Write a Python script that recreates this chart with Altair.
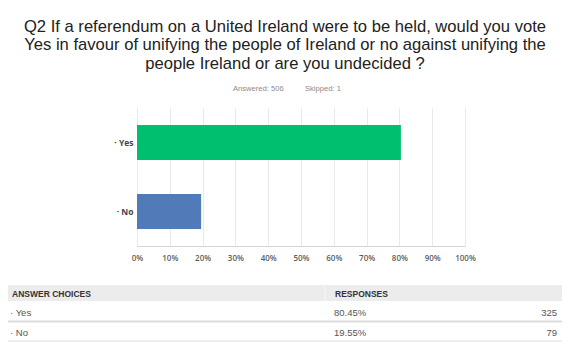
import altair as alt
import pandas as pd

# ---- data ----
title_lines = [
    "Q2 If a referendum on a United Ireland were to be held, would you vote",
    "Yes in favour of unifying the people of Ireland or no against unifying the",
    "people Ireland or are you undecided ?",
]
answered = 506
skipped = 1
choices = ["Yes", "No"]
percents = [80.45, 19.55]
counts = [325, 79]
bar_colors = ["#00bf6f", "#507bb8"]
tick_values = [0, 0.1, 0.2, 0.3, 0.4, 0.5, 0.6, 0.7, 0.8, 0.9, 1.0]
table_headers = ["ANSWER CHOICES", "RESPONSES"]

W, H = 328, 138

bars_df = pd.DataFrame({"choice": choices, "share": [p / 100 for p in percents]})

bars = alt.Chart(bars_df).mark_bar().encode(
    x=alt.X(
        "share:Q",
        scale=alt.Scale(domain=[0, 1]),
        axis=alt.Axis(
            values=tick_values, format=".0%", title=None, grid=True,
            gridColor="#e9e9e9", domainColor="#d6d6d6", ticks=False,
            labelPadding=8, labelFont="Open Sans", labelFontSize=8,
            labelFontWeight=600, labelColor="#5e5e5e", labelFlush=False,
        ),
    ),
    y=alt.Y(
        "choice:N", sort=choices,
        scale=alt.Scale(paddingInner=0.49, paddingOuter=0.245),
        axis=alt.Axis(
            title=None, domain=False, ticks=False, labelPadding=4,
            labelExpr="'· ' + datum.label", labelFont="Open Sans",
            labelFontSize=8.5, labelFontWeight=700, labelColor="#444444",
        ),
    ),
    color=alt.Color("choice:N", scale=alt.Scale(domain=choices, range=bar_colors), legend=None),
)

# title lines
title_df = pd.DataFrame({"line": title_lines, "y": [-81, -63, -44]})
title = alt.Chart(title_df).mark_text(
    font="Liberation Sans", fontSize=16.6, color="#222222", align="center", baseline="middle"
).encode(x=alt.value(148), y=alt.Y("y:Q", scale=None), text="line:N")

sub_df = pd.DataFrame({"t": [f"Answered: {answered}", f"Skipped: {skipped}"], "x": [96, 168]})
sub = alt.Chart(sub_df).mark_text(
    font="Liberation Sans", fontSize=7.6, color="#8a8a8a", align="left", baseline="middle"
).encode(x=alt.X("x:Q", scale=None), y=alt.value(-19), text="t:N")

# table
hdr_bg = alt.Chart(pd.DataFrame({"a": [0]})).mark_rect(color="#ececec").encode(
    x=alt.value(-132), x2=alt.value(426), y=alt.value(177), y2=alt.value(193)
)
hdr_gap = alt.Chart(pd.DataFrame({"a": [0]})).mark_rule(color="#f6f6f6", strokeWidth=1).encode(
    x=alt.value(188), y=alt.value(177), y2=alt.value(193)
)
hdr_df = pd.DataFrame({"t": table_headers, "x": [-125, 198]})
hdr = alt.Chart(hdr_df).mark_text(
    font="Liberation Sans", fontSize=8.5, fontWeight="bold", color="#333333",
    align="left", baseline="middle",
).encode(x=alt.X("x:Q", scale=None), y=alt.value(185.5), text="t:N")

rows_df = pd.DataFrame({
    "label": ["· " + c for c in choices],
    "pct": [f"{p:.2f}%" for p in percents],
    "cnt": [str(c) for c in counts],
    "y": [204.5, 224.5],
})
row_style = dict(font="Liberation Sans", fontSize=9.5, color="#555555", baseline="middle")
row_lbl = alt.Chart(rows_df).mark_text(align="left", **row_style).encode(
    x=alt.value(-127), y=alt.Y("y:Q", scale=None), text="label:N")
row_pct = alt.Chart(rows_df).mark_text(align="left", **row_style).encode(
    x=alt.value(197), y=alt.Y("y:Q", scale=None), text="pct:N")
row_cnt = alt.Chart(rows_df).mark_text(align="right", **row_style).encode(
    x=alt.value(420), y=alt.Y("y:Q", scale=None), text="cnt:N")

lines_df = pd.DataFrame({"y": [213.5, 233], "w": [2, 1]})
sep = alt.Chart(lines_df).mark_rule(color="#dcdcdc").encode(
    x=alt.value(-132), x2=alt.value(426), y=alt.Y("y:Q", scale=None),
    strokeWidth=alt.StrokeWidth("w:Q", scale=None, legend=None),
)

chart = alt.layer(
    bars, title, sub, hdr_bg, hdr_gap, hdr, row_lbl, row_pct, row_cnt, sep
).properties(
    width=W, height=H,
    autosize=alt.AutoSizeParams(type="none"),
    padding={"left": 129, "top": 100, "right": 97, "bottom": 102},
    background="white",
).configure_view(stroke=None).resolve_scale(y="independent")

chart.save("out.html", embed_options={"renderer": "svg", "actions": False})
